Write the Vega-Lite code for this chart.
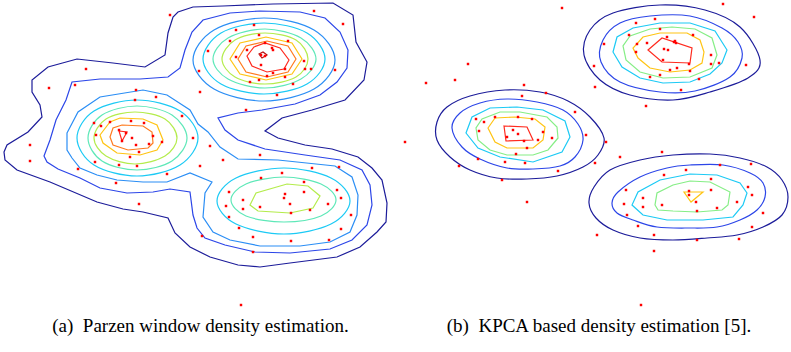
{
"$schema": "https://vega.github.io/schema/vega-lite/v6.json",
"padding": 0,
"spacing": 0,
"background": "white",
"config": {"view": {"stroke": null}},
"datasets": {
"ca": [
{"g":"a1","lev":"L1","k":"m","x":4,"y":152},{"g":"a1","lev":"L1","k":"m","x":7,"y":145},{"g":"a1","lev":"L1","k":"m","x":28,"y":132},{"g":"a1","lev":"L1","k":"m","x":42,"y":117},{"g":"a1","lev":"L1","k":"m","x":40,"y":105},{"g":"a1","lev":"L1","k":"m","x":32,"y":92},{"g":"a1","lev":"L1","k":"m","x":32,"y":80},{"g":"a1","lev":"L1","k":"m","x":48,"y":67},{"g":"a1","lev":"L1","k":"m","x":77,"y":59},{"g":"a1","lev":"L1","k":"m","x":113,"y":63},{"g":"a1","lev":"L1","k":"m","x":145,"y":67},{"g":"a1","lev":"L1","k":"m","x":165,"y":55},{"g":"a1","lev":"L1","k":"m","x":168,"y":33},{"g":"a1","lev":"L1","k":"m","x":173,"y":17},{"g":"a1","lev":"L1","k":"m","x":178,"y":12},{"g":"a1","lev":"L1","k":"m","x":193,"y":7},{"g":"a1","lev":"L1","k":"m","x":223,"y":6},{"g":"a1","lev":"L1","k":"m","x":273,"y":4},{"g":"a1","lev":"L1","k":"m","x":333,"y":3},{"g":"a1","lev":"L1","k":"m","x":353,"y":15},{"g":"a1","lev":"L1","k":"m","x":356,"y":42},{"g":"a1","lev":"L1","k":"m","x":367,"y":62},{"g":"a1","lev":"L1","k":"m","x":364,"y":80},{"g":"a1","lev":"L1","k":"m","x":345,"y":100},{"g":"a1","lev":"L1","k":"m","x":312,"y":110},{"g":"a1","lev":"L1","k":"m","x":282,"y":118},{"g":"a1","lev":"L1","k":"m","x":265,"y":131},{"g":"a1","lev":"L1","k":"m","x":278,"y":138},{"g":"a1","lev":"L1","k":"m","x":305,"y":145},{"g":"a1","lev":"L1","k":"m","x":332,"y":149},{"g":"a1","lev":"L1","k":"m","x":358,"y":157},{"g":"a1","lev":"L1","k":"m","x":372,"y":168},{"g":"a1","lev":"L1","k":"m","x":382,"y":180},{"g":"a1","lev":"L1","k":"m","x":387,"y":203},{"g":"a1","lev":"L1","k":"m","x":386,"y":222},{"g":"a1","lev":"L1","k":"m","x":377,"y":232},{"g":"a1","lev":"L1","k":"m","x":360,"y":247},{"g":"a1","lev":"L1","k":"m","x":337,"y":257},{"g":"a1","lev":"L1","k":"m","x":290,"y":263},{"g":"a1","lev":"L1","k":"m","x":260,"y":267},{"g":"a1","lev":"L1","k":"m","x":238,"y":265},{"g":"a1","lev":"L1","k":"m","x":210,"y":257},{"g":"a1","lev":"L1","k":"m","x":190,"y":247},{"g":"a1","lev":"L1","k":"m","x":175,"y":233},{"g":"a1","lev":"L1","k":"m","x":168,"y":218},{"g":"a1","lev":"L1","k":"m","x":143,"y":212},{"g":"a1","lev":"L1","k":"m","x":123,"y":209},{"g":"a1","lev":"L1","k":"m","x":97,"y":202},{"g":"a1","lev":"L1","k":"m","x":50,"y":182},{"g":"a1","lev":"L1","k":"m","x":17,"y":170},{"g":"a1","lev":"L1","k":"m","x":5,"y":160},
{"g":"a2","lev":"L2","k":"m","x":44,"y":156},{"g":"a2","lev":"L2","k":"m","x":50,"y":140},{"g":"a2","lev":"L2","k":"m","x":56,"y":120},{"g":"a2","lev":"L2","k":"m","x":66,"y":100},{"g":"a2","lev":"L2","k":"m","x":72,"y":82},{"g":"a2","lev":"L2","k":"m","x":100,"y":79},{"g":"a2","lev":"L2","k":"m","x":140,"y":79},{"g":"a2","lev":"L2","k":"m","x":168,"y":77},{"g":"a2","lev":"L2","k":"m","x":180,"y":68},{"g":"a2","lev":"L2","k":"m","x":185,"y":50},{"g":"a2","lev":"L2","k":"m","x":192,"y":32},{"g":"a2","lev":"L2","k":"m","x":203,"y":20},{"g":"a2","lev":"L2","k":"m","x":230,"y":13},{"g":"a2","lev":"L2","k":"m","x":260,"y":11},{"g":"a2","lev":"L2","k":"m","x":300,"y":12},{"g":"a2","lev":"L2","k":"m","x":325,"y":18},{"g":"a2","lev":"L2","k":"m","x":340,"y":32},{"g":"a2","lev":"L2","k":"m","x":348,"y":50},{"g":"a2","lev":"L2","k":"m","x":347,"y":68},{"g":"a2","lev":"L2","k":"m","x":337,"y":82},{"g":"a2","lev":"L2","k":"m","x":320,"y":95},{"g":"a2","lev":"L2","k":"m","x":295,"y":104},{"g":"a2","lev":"L2","k":"m","x":262,"y":110},{"g":"a2","lev":"L2","k":"m","x":238,"y":113},{"g":"a2","lev":"L2","k":"m","x":218,"y":118},{"g":"a2","lev":"L2","k":"m","x":225,"y":130},{"g":"a2","lev":"L2","k":"m","x":238,"y":140},{"g":"a2","lev":"L2","k":"m","x":265,"y":149},{"g":"a2","lev":"L2","k":"m","x":305,"y":155},{"g":"a2","lev":"L2","k":"m","x":340,"y":160},{"g":"a2","lev":"L2","k":"m","x":362,"y":170},{"g":"a2","lev":"L2","k":"m","x":370,"y":185},{"g":"a2","lev":"L2","k":"m","x":372,"y":205},{"g":"a2","lev":"L2","k":"m","x":367,"y":225},{"g":"a2","lev":"L2","k":"m","x":352,"y":240},{"g":"a2","lev":"L2","k":"m","x":330,"y":249},{"g":"a2","lev":"L2","k":"m","x":290,"y":253},{"g":"a2","lev":"L2","k":"m","x":255,"y":252},{"g":"a2","lev":"L2","k":"m","x":225,"y":245},{"g":"a2","lev":"L2","k":"m","x":205,"y":238},{"g":"a2","lev":"L2","k":"m","x":197,"y":228},{"g":"a2","lev":"L2","k":"m","x":193,"y":215},{"g":"a2","lev":"L2","k":"m","x":190,"y":192},{"g":"a2","lev":"L2","k":"m","x":170,"y":189},{"g":"a2","lev":"L2","k":"m","x":153,"y":192},{"g":"a2","lev":"L2","k":"m","x":127,"y":193},{"g":"a2","lev":"L2","k":"m","x":100,"y":188},{"g":"a2","lev":"L2","k":"m","x":80,"y":178},{"g":"a2","lev":"L2","k":"m","x":58,"y":169},{"g":"a2","lev":"L2","k":"m","x":47,"y":162},
{"g":"a3","lev":"L3","k":"m","x":67,"y":133},{"g":"a3","lev":"L3","k":"m","x":78,"y":112},{"g":"a3","lev":"L3","k":"m","x":100,"y":97},{"g":"a3","lev":"L3","k":"m","x":143,"y":90},{"g":"a3","lev":"L3","k":"m","x":167,"y":95},{"g":"a3","lev":"L3","k":"m","x":190,"y":110},{"g":"a3","lev":"L3","k":"m","x":198,"y":124},{"g":"a3","lev":"L3","k":"m","x":208,"y":132},{"g":"a3","lev":"L3","k":"m","x":220,"y":147},{"g":"a3","lev":"L3","k":"m","x":238,"y":159},{"g":"a3","lev":"L3","k":"m","x":278,"y":160},{"g":"a3","lev":"L3","k":"m","x":335,"y":166},{"g":"a3","lev":"L3","k":"m","x":352,"y":177},{"g":"a3","lev":"L3","k":"m","x":358,"y":195},{"g":"a3","lev":"L3","k":"m","x":357,"y":215},{"g":"a3","lev":"L3","k":"m","x":350,"y":232},{"g":"a3","lev":"L3","k":"m","x":330,"y":242},{"g":"a3","lev":"L3","k":"m","x":300,"y":246},{"g":"a3","lev":"L3","k":"m","x":260,"y":246},{"g":"a3","lev":"L3","k":"m","x":230,"y":240},{"g":"a3","lev":"L3","k":"m","x":213,"y":232},{"g":"a3","lev":"L3","k":"m","x":203,"y":217},{"g":"a3","lev":"L3","k":"m","x":205,"y":193},{"g":"a3","lev":"L3","k":"m","x":212,"y":182},{"g":"a3","lev":"L3","k":"m","x":190,"y":173},{"g":"a3","lev":"L3","k":"m","x":167,"y":182},{"g":"a3","lev":"L3","k":"m","x":143,"y":182},{"g":"a3","lev":"L3","k":"m","x":117,"y":180},{"g":"a3","lev":"L3","k":"m","x":97,"y":175},{"g":"a3","lev":"L3","k":"m","x":80,"y":168},{"g":"a3","lev":"L3","k":"m","x":72,"y":158},{"g":"a3","lev":"L3","k":"m","x":67,"y":150},
{"g":"at3","lev":"L3","k":"r","x":335,"y":60},{"g":"at3","lev":"L3","k":"r","x":314,"y":89},{"g":"at3","lev":"L3","k":"r","x":264,"y":101},{"g":"at3","lev":"L3","k":"r","x":214,"y":89},{"g":"at3","lev":"L3","k":"r","x":193,"y":60},{"g":"at3","lev":"L3","k":"r","x":214,"y":30},{"g":"at3","lev":"L3","k":"r","x":264,"y":18},{"g":"at3","lev":"L3","k":"r","x":314,"y":30},
{"g":"at4","lev":"L4","k":"r","x":325,"y":59},{"g":"at4","lev":"L4","k":"r","x":307,"y":84},{"g":"at4","lev":"L4","k":"r","x":264,"y":94},{"g":"at4","lev":"L4","k":"r","x":221,"y":84},{"g":"at4","lev":"L4","k":"r","x":203,"y":59},{"g":"at4","lev":"L4","k":"r","x":221,"y":33},{"g":"at4","lev":"L4","k":"r","x":264,"y":23},{"g":"at4","lev":"L4","k":"r","x":307,"y":33},
{"g":"at5","lev":"L5","k":"r","x":316,"y":59},{"g":"at5","lev":"L5","k":"r","x":301,"y":79},{"g":"at5","lev":"L5","k":"r","x":265,"y":88},{"g":"at5","lev":"L5","k":"r","x":228,"y":79},{"g":"at5","lev":"L5","k":"r","x":213,"y":59},{"g":"at5","lev":"L5","k":"r","x":228,"y":38},{"g":"at5","lev":"L5","k":"r","x":265,"y":29},{"g":"at5","lev":"L5","k":"r","x":301,"y":38},
{"g":"at6","lev":"L6","k":"r","x":308,"y":59},{"g":"at6","lev":"L6","k":"r","x":296,"y":77},{"g":"at6","lev":"L6","k":"r","x":265,"y":84},{"g":"at6","lev":"L6","k":"r","x":235,"y":77},{"g":"at6","lev":"L6","k":"r","x":222,"y":59},{"g":"at6","lev":"L6","k":"r","x":235,"y":40},{"g":"at6","lev":"L6","k":"r","x":265,"y":33},{"g":"at6","lev":"L6","k":"r","x":296,"y":40},
{"g":"at7","lev":"L7","k":"m","x":302,"y":59},{"g":"at7","lev":"L7","k":"m","x":292,"y":74},{"g":"at7","lev":"L7","k":"m","x":266,"y":80},{"g":"at7","lev":"L7","k":"m","x":240,"y":74},{"g":"at7","lev":"L7","k":"m","x":230,"y":59},{"g":"at7","lev":"L7","k":"m","x":240,"y":43},{"g":"at7","lev":"L7","k":"m","x":266,"y":37},{"g":"at7","lev":"L7","k":"m","x":292,"y":43},
{"g":"at8","lev":"L8","k":"m","x":296,"y":59},{"g":"at8","lev":"L8","k":"m","x":288,"y":72},{"g":"at8","lev":"L8","k":"m","x":267,"y":77},{"g":"at8","lev":"L8","k":"m","x":246,"y":72},{"g":"at8","lev":"L8","k":"m","x":238,"y":59},{"g":"at8","lev":"L8","k":"m","x":246,"y":46},{"g":"at8","lev":"L8","k":"m","x":267,"y":41},{"g":"at8","lev":"L8","k":"m","x":288,"y":46},
{"g":"at9","lev":"L9","k":"m","x":289,"y":60},{"g":"at9","lev":"L9","k":"m","x":284,"y":69},{"g":"at9","lev":"L9","k":"m","x":267,"y":72},{"g":"at9","lev":"L9","k":"m","x":252,"y":66},{"g":"at9","lev":"L9","k":"m","x":247,"y":56},{"g":"at9","lev":"L9","k":"m","x":254,"y":47},{"g":"at9","lev":"L9","k":"m","x":265,"y":43},{"g":"at9","lev":"L9","k":"m","x":280,"y":48},
{"g":"at10","lev":"L10","k":"m","x":259,"y":54},{"g":"at10","lev":"L10","k":"m","x":263,"y":52},{"g":"at10","lev":"L10","k":"m","x":267,"y":55},{"g":"at10","lev":"L10","k":"m","x":262,"y":58},
{"g":"al4","lev":"L4","k":"r","x":198,"y":138},{"g":"al4","lev":"L4","k":"r","x":180,"y":165},{"g":"al4","lev":"L4","k":"r","x":137,"y":176},{"g":"al4","lev":"L4","k":"r","x":94,"y":165},{"g":"al4","lev":"L4","k":"r","x":77,"y":138},{"g":"al4","lev":"L4","k":"r","x":94,"y":111},{"g":"al4","lev":"L4","k":"r","x":137,"y":100},{"g":"al4","lev":"L4","k":"r","x":180,"y":111},
{"g":"al5","lev":"L5","k":"r","x":187,"y":138},{"g":"al5","lev":"L5","k":"r","x":172,"y":161},{"g":"al5","lev":"L5","k":"r","x":137,"y":170},{"g":"al5","lev":"L5","k":"r","x":102,"y":161},{"g":"al5","lev":"L5","k":"r","x":88,"y":138},{"g":"al5","lev":"L5","k":"r","x":102,"y":115},{"g":"al5","lev":"L5","k":"r","x":137,"y":106},{"g":"al5","lev":"L5","k":"r","x":172,"y":115},
{"g":"al6","lev":"L6","k":"r","x":177,"y":138},{"g":"al6","lev":"L6","k":"r","x":165,"y":156},{"g":"al6","lev":"L6","k":"r","x":135,"y":164},{"g":"al6","lev":"L6","k":"r","x":106,"y":156},{"g":"al6","lev":"L6","k":"r","x":94,"y":138},{"g":"al6","lev":"L6","k":"r","x":106,"y":119},{"g":"al6","lev":"L6","k":"r","x":135,"y":112},{"g":"al6","lev":"L6","k":"r","x":165,"y":119},
{"g":"al7","lev":"L7","k":"m","x":163,"y":140},{"g":"al7","lev":"L7","k":"m","x":157,"y":150},{"g":"al7","lev":"L7","k":"m","x":140,"y":155},{"g":"al7","lev":"L7","k":"m","x":117,"y":153},{"g":"al7","lev":"L7","k":"m","x":103,"y":143},{"g":"al7","lev":"L7","k":"m","x":100,"y":135},{"g":"al7","lev":"L7","k":"m","x":110,"y":122},{"g":"al7","lev":"L7","k":"m","x":120,"y":118},{"g":"al7","lev":"L7","k":"m","x":143,"y":119},{"g":"al7","lev":"L7","k":"m","x":157,"y":125},
{"g":"al8","lev":"L8","k":"m","x":153,"y":143},{"g":"al8","lev":"L8","k":"m","x":148,"y":148},{"g":"al8","lev":"L8","k":"m","x":128,"y":150},{"g":"al8","lev":"L8","k":"m","x":113,"y":145},{"g":"al8","lev":"L8","k":"m","x":110,"y":137},{"g":"al8","lev":"L8","k":"m","x":113,"y":128},{"g":"al8","lev":"L8","k":"m","x":122,"y":125},{"g":"al8","lev":"L8","k":"m","x":143,"y":126},{"g":"al8","lev":"L8","k":"m","x":152,"y":132},
{"g":"al9","lev":"L9","k":"m","x":119,"y":131},{"g":"al9","lev":"L9","k":"m","x":127,"y":132},{"g":"al9","lev":"L9","k":"m","x":122,"y":141},
{"g":"ab4","lev":"L4","k":"r","x":350,"y":201},{"g":"ab4","lev":"L4","k":"r","x":331,"y":224},{"g":"ab4","lev":"L4","k":"r","x":284,"y":234},{"g":"ab4","lev":"L4","k":"r","x":236,"y":224},{"g":"ab4","lev":"L4","k":"r","x":217,"y":201},{"g":"ab4","lev":"L4","k":"r","x":236,"y":178},{"g":"ab4","lev":"L4","k":"r","x":284,"y":168},{"g":"ab4","lev":"L4","k":"r","x":331,"y":178},
{"g":"ab5","lev":"L5","k":"r","x":336,"y":200},{"g":"ab5","lev":"L5","k":"r","x":321,"y":216},{"g":"ab5","lev":"L5","k":"r","x":284,"y":222},{"g":"ab5","lev":"L5","k":"r","x":246,"y":216},{"g":"ab5","lev":"L5","k":"r","x":231,"y":200},{"g":"ab5","lev":"L5","k":"r","x":246,"y":184},{"g":"ab5","lev":"L5","k":"r","x":284,"y":177},{"g":"ab5","lev":"L5","k":"r","x":321,"y":184},
{"g":"ab6","lev":"L6","k":"m","x":320,"y":196},{"g":"ab6","lev":"L6","k":"m","x":313,"y":208},{"g":"ab6","lev":"L6","k":"m","x":290,"y":213},{"g":"ab6","lev":"L6","k":"m","x":258,"y":211},{"g":"ab6","lev":"L6","k":"m","x":250,"y":205},{"g":"ab6","lev":"L6","k":"m","x":256,"y":193},{"g":"ab6","lev":"L6","k":"m","x":287,"y":184},{"g":"ab6","lev":"L6","k":"m","x":308,"y":186}
],
"cb": [
{"g":"bt1","lev":"L1","k":"r","x":760,"y":60},{"g":"bt1","lev":"L1","k":"r","x":748,"y":78},{"g":"bt1","lev":"L1","k":"r","x":710,"y":92},{"g":"bt1","lev":"L1","k":"r","x":673,"y":100},{"g":"bt1","lev":"L1","k":"r","x":630,"y":95},{"g":"bt1","lev":"L1","k":"r","x":600,"y":80},{"g":"bt1","lev":"L1","k":"r","x":584,"y":55},{"g":"bt1","lev":"L1","k":"r","x":590,"y":30},{"g":"bt1","lev":"L1","k":"r","x":613,"y":13},{"g":"bt1","lev":"L1","k":"r","x":660,"y":5},{"g":"bt1","lev":"L1","k":"r","x":705,"y":10},{"g":"bt1","lev":"L1","k":"r","x":740,"y":27},
{"g":"bt2","lev":"L2","k":"r","x":742,"y":58},{"g":"bt2","lev":"L2","k":"r","x":730,"y":77},{"g":"bt2","lev":"L2","k":"r","x":695,"y":91},{"g":"bt2","lev":"L2","k":"r","x":660,"y":92},{"g":"bt2","lev":"L2","k":"r","x":620,"y":82},{"g":"bt2","lev":"L2","k":"r","x":601,"y":62},{"g":"bt2","lev":"L2","k":"r","x":603,"y":40},{"g":"bt2","lev":"L2","k":"r","x":620,"y":23},{"g":"bt2","lev":"L2","k":"r","x":650,"y":16},{"g":"bt2","lev":"L2","k":"r","x":690,"y":16},{"g":"bt2","lev":"L2","k":"r","x":722,"y":28},{"g":"bt2","lev":"L2","k":"r","x":738,"y":42},
{"g":"bt3","lev":"L4","k":"m","x":727,"y":50},{"g":"bt3","lev":"L4","k":"m","x":722,"y":63},{"g":"bt3","lev":"L4","k":"m","x":710,"y":74},{"g":"bt3","lev":"L4","k":"m","x":690,"y":82},{"g":"bt3","lev":"L4","k":"m","x":663,"y":83},{"g":"bt3","lev":"L4","k":"m","x":640,"y":78},{"g":"bt3","lev":"L4","k":"m","x":622,"y":67},{"g":"bt3","lev":"L4","k":"m","x":613,"y":52},{"g":"bt3","lev":"L4","k":"m","x":617,"y":37},{"g":"bt3","lev":"L4","k":"m","x":633,"y":28},{"g":"bt3","lev":"L4","k":"m","x":660,"y":23},{"g":"bt3","lev":"L4","k":"m","x":690,"y":23},{"g":"bt3","lev":"L4","k":"m","x":715,"y":31},
{"g":"bt4","lev":"Lg","k":"m","x":717,"y":55},{"g":"bt4","lev":"Lg","k":"m","x":712,"y":68},{"g":"bt4","lev":"Lg","k":"m","x":690,"y":77},{"g":"bt4","lev":"Lg","k":"m","x":663,"y":78},{"g":"bt4","lev":"Lg","k":"m","x":640,"y":72},{"g":"bt4","lev":"Lg","k":"m","x":626,"y":60},{"g":"bt4","lev":"Lg","k":"m","x":623,"y":46},{"g":"bt4","lev":"Lg","k":"m","x":630,"y":36},{"g":"bt4","lev":"Lg","k":"m","x":650,"y":29},{"g":"bt4","lev":"Lg","k":"m","x":672,"y":27},{"g":"bt4","lev":"Lg","k":"m","x":695,"y":29},{"g":"bt4","lev":"Lg","k":"m","x":712,"y":38},
{"g":"bt5","lev":"L7","k":"m","x":704,"y":52},{"g":"bt5","lev":"L7","k":"m","x":702,"y":63},{"g":"bt5","lev":"L7","k":"m","x":690,"y":70},{"g":"bt5","lev":"L7","k":"m","x":670,"y":72},{"g":"bt5","lev":"L7","k":"m","x":650,"y":68},{"g":"bt5","lev":"L7","k":"m","x":638,"y":58},{"g":"bt5","lev":"L7","k":"m","x":633,"y":48},{"g":"bt5","lev":"L7","k":"m","x":643,"y":37},{"g":"bt5","lev":"L7","k":"m","x":660,"y":33},{"g":"bt5","lev":"L7","k":"m","x":687,"y":33},{"g":"bt5","lev":"L7","k":"m","x":700,"y":40},
{"g":"bt6","lev":"L9","k":"m","x":648,"y":50},{"g":"bt6","lev":"L9","k":"m","x":662,"y":38},{"g":"bt6","lev":"L9","k":"m","x":692,"y":48},{"g":"bt6","lev":"L9","k":"m","x":690,"y":63},{"g":"bt6","lev":"L9","k":"m","x":662,"y":62},
{"g":"bl1","lev":"L1","k":"r","x":604,"y":138},{"g":"bl1","lev":"L1","k":"r","x":598,"y":155},{"g":"bl1","lev":"L1","k":"r","x":583,"y":167},{"g":"bl1","lev":"L1","k":"r","x":557,"y":176},{"g":"bl1","lev":"L1","k":"r","x":527,"y":179},{"g":"bl1","lev":"L1","k":"r","x":497,"y":178},{"g":"bl1","lev":"L1","k":"r","x":470,"y":170},{"g":"bl1","lev":"L1","k":"r","x":450,"y":157},{"g":"bl1","lev":"L1","k":"r","x":437,"y":140},{"g":"bl1","lev":"L1","k":"r","x":437,"y":122},{"g":"bl1","lev":"L1","k":"r","x":447,"y":107},{"g":"bl1","lev":"L1","k":"r","x":470,"y":96},{"g":"bl1","lev":"L1","k":"r","x":505,"y":90},{"g":"bl1","lev":"L1","k":"r","x":540,"y":92},{"g":"bl1","lev":"L1","k":"r","x":568,"y":101},{"g":"bl1","lev":"L1","k":"r","x":590,"y":117},
{"g":"bl2","lev":"L2","k":"r","x":583,"y":140},{"g":"bl2","lev":"L2","k":"r","x":575,"y":157},{"g":"bl2","lev":"L2","k":"r","x":560,"y":166},{"g":"bl2","lev":"L2","k":"r","x":533,"y":169},{"g":"bl2","lev":"L2","k":"r","x":507,"y":168},{"g":"bl2","lev":"L2","k":"r","x":480,"y":159},{"g":"bl2","lev":"L2","k":"r","x":462,"y":147},{"g":"bl2","lev":"L2","k":"r","x":452,"y":128},{"g":"bl2","lev":"L2","k":"r","x":460,"y":113},{"g":"bl2","lev":"L2","k":"r","x":480,"y":103},{"g":"bl2","lev":"L2","k":"r","x":507,"y":99},{"g":"bl2","lev":"L2","k":"r","x":537,"y":102},{"g":"bl2","lev":"L2","k":"r","x":563,"y":110},{"g":"bl2","lev":"L2","k":"r","x":578,"y":124},
{"g":"bl3","lev":"L4","k":"m","x":570,"y":137},{"g":"bl3","lev":"L4","k":"m","x":562,"y":152},{"g":"bl3","lev":"L4","k":"m","x":533,"y":162},{"g":"bl3","lev":"L4","k":"m","x":500,"y":157},{"g":"bl3","lev":"L4","k":"m","x":478,"y":148},{"g":"bl3","lev":"L4","k":"m","x":466,"y":133},{"g":"bl3","lev":"L4","k":"m","x":472,"y":117},{"g":"bl3","lev":"L4","k":"m","x":490,"y":108},{"g":"bl3","lev":"L4","k":"m","x":517,"y":107},{"g":"bl3","lev":"L4","k":"m","x":543,"y":110},{"g":"bl3","lev":"L4","k":"m","x":565,"y":121},
{"g":"bl4","lev":"Lg","k":"m","x":558,"y":138},{"g":"bl4","lev":"Lg","k":"m","x":548,"y":150},{"g":"bl4","lev":"Lg","k":"m","x":533,"y":155},{"g":"bl4","lev":"Lg","k":"m","x":507,"y":155},{"g":"bl4","lev":"Lg","k":"m","x":490,"y":150},{"g":"bl4","lev":"Lg","k":"m","x":478,"y":140},{"g":"bl4","lev":"Lg","k":"m","x":476,"y":128},{"g":"bl4","lev":"Lg","k":"m","x":482,"y":119},{"g":"bl4","lev":"Lg","k":"m","x":500,"y":112},{"g":"bl4","lev":"Lg","k":"m","x":520,"y":112},{"g":"bl4","lev":"Lg","k":"m","x":547,"y":117},{"g":"bl4","lev":"Lg","k":"m","x":557,"y":127},
{"g":"bl5","lev":"L7","k":"m","x":488,"y":128},{"g":"bl5","lev":"L7","k":"m","x":495,"y":118},{"g":"bl5","lev":"L7","k":"m","x":515,"y":117},{"g":"bl5","lev":"L7","k":"m","x":535,"y":119},{"g":"bl5","lev":"L7","k":"m","x":545,"y":127},{"g":"bl5","lev":"L7","k":"m","x":543,"y":140},{"g":"bl5","lev":"L7","k":"m","x":533,"y":148},{"g":"bl5","lev":"L7","k":"m","x":507,"y":148},{"g":"bl5","lev":"L7","k":"m","x":495,"y":142},
{"g":"bl6","lev":"L9","k":"m","x":504,"y":126},{"g":"bl6","lev":"L9","k":"m","x":527,"y":127},{"g":"bl6","lev":"L9","k":"m","x":533,"y":140},{"g":"bl6","lev":"L9","k":"m","x":506,"y":141},
{"g":"bb1","lev":"L1","k":"r","x":788,"y":197},{"g":"bb1","lev":"L1","k":"r","x":782,"y":215},{"g":"bb1","lev":"L1","k":"r","x":763,"y":227},{"g":"bb1","lev":"L1","k":"r","x":737,"y":235},{"g":"bb1","lev":"L1","k":"r","x":707,"y":238},{"g":"bb1","lev":"L1","k":"r","x":673,"y":240},{"g":"bb1","lev":"L1","k":"r","x":640,"y":238},{"g":"bb1","lev":"L1","k":"r","x":613,"y":230},{"g":"bb1","lev":"L1","k":"r","x":596,"y":218},{"g":"bb1","lev":"L1","k":"r","x":589,"y":203},{"g":"bb1","lev":"L1","k":"r","x":594,"y":187},{"g":"bb1","lev":"L1","k":"r","x":610,"y":170},{"g":"bb1","lev":"L1","k":"r","x":640,"y":160},{"g":"bb1","lev":"L1","k":"r","x":673,"y":155},{"g":"bb1","lev":"L1","k":"r","x":710,"y":154},{"g":"bb1","lev":"L1","k":"r","x":740,"y":158},{"g":"bb1","lev":"L1","k":"r","x":767,"y":167},{"g":"bb1","lev":"L1","k":"r","x":782,"y":180},
{"g":"bb2","lev":"L2","k":"r","x":765,"y":197},{"g":"bb2","lev":"L2","k":"r","x":757,"y":210},{"g":"bb2","lev":"L2","k":"r","x":740,"y":220},{"g":"bb2","lev":"L2","k":"r","x":717,"y":227},{"g":"bb2","lev":"L2","k":"r","x":690,"y":228},{"g":"bb2","lev":"L2","k":"r","x":657,"y":227},{"g":"bb2","lev":"L2","k":"r","x":633,"y":220},{"g":"bb2","lev":"L2","k":"r","x":617,"y":213},{"g":"bb2","lev":"L2","k":"r","x":612,"y":203},{"g":"bb2","lev":"L2","k":"r","x":618,"y":192},{"g":"bb2","lev":"L2","k":"r","x":640,"y":177},{"g":"bb2","lev":"L2","k":"r","x":667,"y":168},{"g":"bb2","lev":"L2","k":"r","x":690,"y":165},{"g":"bb2","lev":"L2","k":"r","x":723,"y":165},{"g":"bb2","lev":"L2","k":"r","x":750,"y":173},{"g":"bb2","lev":"L2","k":"r","x":763,"y":183},
{"g":"bb3","lev":"L4","k":"m","x":747,"y":193},{"g":"bb3","lev":"L4","k":"m","x":743,"y":205},{"g":"bb3","lev":"L4","k":"m","x":733,"y":217},{"g":"bb3","lev":"L4","k":"m","x":703,"y":220},{"g":"bb3","lev":"L4","k":"m","x":667,"y":220},{"g":"bb3","lev":"L4","k":"m","x":643,"y":215},{"g":"bb3","lev":"L4","k":"m","x":632,"y":205},{"g":"bb3","lev":"L4","k":"m","x":638,"y":192},{"g":"bb3","lev":"L4","k":"m","x":660,"y":180},{"g":"bb3","lev":"L4","k":"m","x":690,"y":174},{"g":"bb3","lev":"L4","k":"m","x":717,"y":175},{"g":"bb3","lev":"L4","k":"m","x":740,"y":183},
{"g":"bb4","lev":"Lg","k":"m","x":730,"y":192},{"g":"bb4","lev":"Lg","k":"m","x":728,"y":205},{"g":"bb4","lev":"Lg","k":"m","x":722,"y":210},{"g":"bb4","lev":"Lg","k":"m","x":697,"y":212},{"g":"bb4","lev":"Lg","k":"m","x":673,"y":211},{"g":"bb4","lev":"Lg","k":"m","x":658,"y":210},{"g":"bb4","lev":"Lg","k":"m","x":655,"y":205},{"g":"bb4","lev":"Lg","k":"m","x":657,"y":193},{"g":"bb4","lev":"Lg","k":"m","x":673,"y":185},{"g":"bb4","lev":"Lg","k":"m","x":690,"y":181},{"g":"bb4","lev":"Lg","k":"m","x":710,"y":182},
{"g":"bb5","lev":"L7","k":"m","x":684,"y":192},{"g":"bb5","lev":"L7","k":"m","x":703,"y":192},{"g":"bb5","lev":"L7","k":"m","x":691,"y":202}
],
"da": [
{"x":170,"y":15},{"x":86,"y":69},{"x":49,"y":88},{"x":75,"y":85},{"x":136,"y":90},{"x":156,"y":97},{"x":135,"y":100},{"x":182,"y":116},{"x":193,"y":138},{"x":200,"y":92},{"x":94,"y":123},{"x":101,"y":126},{"x":110,"y":122},{"x":131,"y":121},{"x":144,"y":123},{"x":96,"y":135},{"x":119,"y":130},{"x":126,"y":133},{"x":132,"y":138},{"x":122,"y":141},{"x":153,"y":136},{"x":162,"y":142},{"x":136,"y":145},{"x":149,"y":144},{"x":139,"y":152},{"x":130,"y":157},{"x":30,"y":145},{"x":30,"y":161},{"x":95,"y":162},{"x":119,"y":165},{"x":137,"y":166},{"x":78,"y":169},{"x":167,"y":174},{"x":200,"y":166},{"x":116,"y":183},{"x":139,"y":204},
{"x":260,"y":155},{"x":223,"y":160},{"x":312,"y":168},{"x":339,"y":167},{"x":282,"y":173},{"x":261,"y":178},{"x":304,"y":182},{"x":337,"y":190},{"x":229,"y":192},{"x":304,"y":192},{"x":285,"y":194},{"x":284,"y":198},{"x":243,"y":200},{"x":341,"y":198},{"x":290,"y":204},{"x":328,"y":204},{"x":226,"y":206},{"x":243,"y":209},{"x":260,"y":207},{"x":291,"y":213},{"x":310,"y":210},{"x":229,"y":217},{"x":351,"y":215},{"x":239,"y":228},{"x":341,"y":229},{"x":253,"y":237},{"x":202,"y":236},{"x":291,"y":241},{"x":329,"y":240},{"x":253,"y":252},{"x":241,"y":305},
{"x":314,"y":11},{"x":343,"y":24},{"x":254,"y":25},{"x":236,"y":30},{"x":230,"y":41},{"x":208,"y":51},{"x":259,"y":35},{"x":288,"y":41},{"x":265,"y":43},{"x":272,"y":48},{"x":273,"y":50},{"x":247,"y":50},{"x":261,"y":55},{"x":265,"y":56},{"x":236,"y":57},{"x":304,"y":61},{"x":311,"y":69},{"x":305,"y":69},{"x":335,"y":70},{"x":285,"y":69},{"x":261,"y":65},{"x":273,"y":73},{"x":267,"y":76},{"x":285,"y":77},{"x":250,"y":82},{"x":259,"y":80},{"x":293,"y":84},{"x":199,"y":71},{"x":277,"y":95},{"x":246,"y":110},{"x":210,"y":146}
],
"db": [
{"x":562,"y":8},{"x":468,"y":64},{"x":426,"y":83},{"x":455,"y":80},{"x":524,"y":85},{"x":546,"y":93},{"x":522,"y":96},{"x":594,"y":66},{"x":595,"y":87},{"x":575,"y":112},{"x":476,"y":119},{"x":495,"y":117},{"x":518,"y":117},{"x":532,"y":119},{"x":484,"y":122},{"x":513,"y":130},{"x":479,"y":131},{"x":518,"y":134},{"x":543,"y":132},{"x":507,"y":137},{"x":538,"y":140},{"x":524,"y":141},{"x":552,"y":138},{"x":527,"y":148},{"x":586,"y":135},{"x":405,"y":142},{"x":516,"y":154},{"x":478,"y":159},{"x":459,"y":166},{"x":505,"y":162},{"x":525,"y":163},{"x":558,"y":171},{"x":502,"y":180},{"x":595,"y":163},{"x":527,"y":202},{"x":597,"y":235},
{"x":723,"y":4},{"x":754,"y":17},{"x":655,"y":19},{"x":636,"y":23},{"x":660,"y":29},{"x":629,"y":35},{"x":693,"y":35},{"x":667,"y":37},{"x":604,"y":44},{"x":637,"y":44},{"x":647,"y":43},{"x":674,"y":42},{"x":676,"y":43},{"x":675,"y":41},{"x":664,"y":49},{"x":668,"y":50},{"x":636,"y":52},{"x":711,"y":55},{"x":719,"y":63},{"x":711,"y":64},{"x":663,"y":60},{"x":689,"y":64},{"x":746,"y":65},{"x":670,"y":70},{"x":677,"y":68},{"x":690,"y":71},{"x":660,"y":75},{"x":650,"y":77},{"x":699,"y":79},{"x":681,"y":90},{"x":646,"y":106},{"x":606,"y":142},{"x":620,"y":157},{"x":662,"y":152},
{"x":720,"y":165},{"x":751,"y":164},{"x":664,"y":175},{"x":686,"y":170},{"x":711,"y":179},{"x":748,"y":187},{"x":626,"y":190},{"x":689,"y":191},{"x":689,"y":195},{"x":711,"y":190},{"x":752,"y":195},{"x":643,"y":198},{"x":624,"y":204},{"x":662,"y":205},{"x":696,"y":202},{"x":737,"y":202},{"x":643,"y":207},{"x":717,"y":208},{"x":697,"y":211},{"x":627,"y":215},{"x":763,"y":213},{"x":638,"y":226},{"x":752,"y":227},{"x":654,"y":235},{"x":697,"y":240},{"x":739,"y":239},{"x":654,"y":251},{"x":641,"y":305}
]
},
"hconcat": [
{
"width": 395, "height": 312,
"title": {"text": "(a)\u2002Parzen window density estimation.", "orient": "bottom", "anchor": "middle", "font": "Liberation Serif", "fontSize": 19, "fontWeight": "normal", "color": "black", "offset": 5, "dx": 3},
"encoding": {
"x": {"field": "x", "type": "quantitative", "scale": {"domain": [0, 395], "nice": false, "zero": false}, "axis": null},
"y": {"field": "y", "type": "quantitative", "scale": {"domain": [0, 312], "nice": false, "zero": false, "reverse": true}, "axis": null}
},
"layer": [
{"data": {"name": "ca"}, "transform": [{"filter": "datum.k == 'm'"}], "mark": {"type": "line", "interpolate": "linear-closed", "strokeWidth": 1.2},
 "encoding": {"detail": {"field": "g"}, "order": {"value": null}, "color": {"field": "lev", "type": "nominal", "legend": null, "scale": {"domain": ["L1","L2","L3","L4","L5","L6","L7","L8","L9","L10","Lg"], "range": ["#1c1c9a","#2c46e8","#2b8ef5","#1ccaf5","#5ee8b8","#b4ec4c","#ffc414","#ff7a1e","#ff2a1e","#b81414","#86ee86"]}}}},
{"data": {"name": "ca"}, "transform": [{"filter": "datum.k == 'r'"}], "mark": {"type": "line", "interpolate": "cardinal-closed", "strokeWidth": 1.2},
 "encoding": {"detail": {"field": "g"}, "order": {"value": null}, "color": {"field": "lev", "type": "nominal", "legend": null, "scale": {"domain": ["L1","L2","L3","L4","L5","L6","L7","L8","L9","L10","Lg"], "range": ["#1c1c9a","#2c46e8","#2b8ef5","#1ccaf5","#5ee8b8","#b4ec4c","#ffc414","#ff7a1e","#ff2a1e","#b81414","#86ee86"]}}}},
{"data": {"name": "da"}, "mark": {"type": "point", "filled": true, "shape": "square", "size": 6, "color": "#ff0000", "opacity": 1}}
]
},
{
"width": 396, "height": 312,
"title": {"text": "(b)\u2002KPCA based density estimation [5].", "orient": "bottom", "anchor": "middle", "font": "Liberation Serif", "fontSize": 19, "fontWeight": "normal", "color": "black", "offset": 5, "dx": 6},
"encoding": {
"x": {"field": "x", "type": "quantitative", "scale": {"domain": [395, 791], "nice": false, "zero": false}, "axis": null},
"y": {"field": "y", "type": "quantitative", "scale": {"domain": [0, 312], "nice": false, "zero": false, "reverse": true}, "axis": null}
},
"layer": [
{"data": {"name": "cb"}, "transform": [{"filter": "datum.k == 'm'"}], "mark": {"type": "line", "interpolate": "linear-closed", "strokeWidth": 1.2},
 "encoding": {"detail": {"field": "g"}, "order": {"value": null}, "color": {"field": "lev", "type": "nominal", "legend": null, "scale": {"domain": ["L1","L2","L3","L4","L5","L6","L7","L8","L9","L10","Lg"], "range": ["#1c1c9a","#2c46e8","#2b8ef5","#1ccaf5","#5ee8b8","#b4ec4c","#ffc414","#ff7a1e","#ff2a1e","#b81414","#86ee86"]}}}},
{"data": {"name": "cb"}, "transform": [{"filter": "datum.k == 'r'"}], "mark": {"type": "line", "interpolate": "cardinal-closed", "strokeWidth": 1.2},
 "encoding": {"detail": {"field": "g"}, "order": {"value": null}, "color": {"field": "lev", "type": "nominal", "legend": null, "scale": {"domain": ["L1","L2","L3","L4","L5","L6","L7","L8","L9","L10","Lg"], "range": ["#1c1c9a","#2c46e8","#2b8ef5","#1ccaf5","#5ee8b8","#b4ec4c","#ffc414","#ff7a1e","#ff2a1e","#b81414","#86ee86"]}}}},
{"data": {"name": "db"}, "mark": {"type": "point", "filled": true, "shape": "square", "size": 6, "color": "#ff0000", "opacity": 1}}
]
}
]
}
